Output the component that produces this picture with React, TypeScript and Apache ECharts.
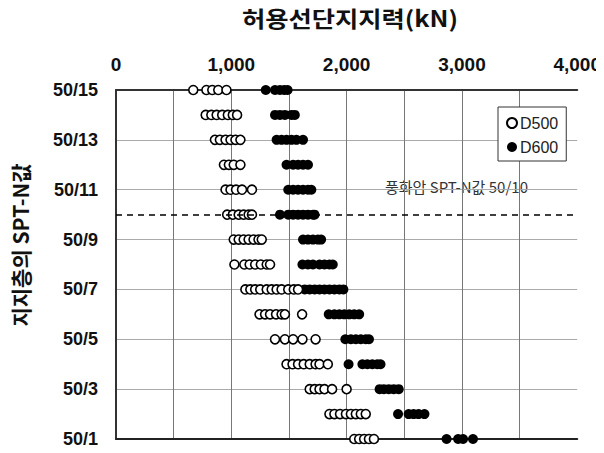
import React, { useEffect, useRef } from "react";
import * as echarts from "echarts";

const levels = ["50/1","50/2","50/3","50/4","50/5","50/6","50/7","50/8","50/9","50/10","50/11","50/12","50/13","50/14","50/15"];

// values per level (index matches levels)
const d500: number[][] = [
  [2066, 2109, 2152, 2194, 2237],
  [1851, 1894, 1943, 1994, 2037, 2080, 2123, 2166],
  [1680, 1723, 1765, 1808, 1874, 2000],
  [1479, 1531, 1579, 1628, 1680, 1731, 1765, 1837],
  [1379, 1465, 1536, 1617, 1731],
  [1245, 1293, 1336, 1388, 1436, 1465, 1614],
  [1122, 1165, 1207, 1251, 1307, 1350, 1393, 1436, 1494, 1542, 1579],
  [1027, 1113, 1159, 1207, 1256, 1307, 1336],
  [1021, 1064, 1107, 1150, 1193, 1236, 1264],
  [964, 1013, 1064, 1107, 1150, 1179],
  [950, 993, 1041, 1093, 1179],
  [936, 979, 1021, 1079],
  [858, 901, 950, 993, 1036, 1079],
  [778, 827, 873, 921, 970, 1013, 1050],
  [670, 784, 835, 887, 958],
];

const d600: number[][] = [
  [2867, 2967, 3010, 3096],
  [2446, 2538, 2581, 2624, 2675],
  [2286, 2323, 2366, 2409, 2452],
  [2017, 2137, 2180, 2223, 2266, 2294],
  [1989, 2037, 2080, 2123, 2166, 2194],
  [1845, 1894, 1937, 1980, 2023, 2066, 2109],
  [1637, 1680, 1723, 1765, 1808, 1851, 1894, 1937, 1972],
  [1617, 1665, 1708, 1765, 1808, 1851, 1880],
  [1622, 1665, 1708, 1751, 1779],
  [1422, 1494, 1536, 1579, 1622, 1665, 1708, 1722],
  [1494, 1536, 1579, 1622, 1665, 1694],
  [1479, 1536, 1579, 1622, 1665],
  [1393, 1436, 1479, 1522, 1565, 1622],
  [1379, 1422, 1465, 1522, 1551],
  [1299, 1379, 1422, 1459, 1488],
];

const xTicks = [0, 1000, 2000, 3000, 4000];
const refLevel = "50/10";
const refLabel = "풍화암 SPT-N값 50/10";
const xTitle = "허용선단지지력(kN)";
const yTitle = "지지층의 SPT-N값";

const toPoints = (rows: number[][]) =>
  rows.flatMap((vals, i) => vals.map((v) => [v, levels[i]]));

const FONT = "'Liberation Sans', 'Noto Sans CJK KR', sans-serif";
const KFONT = "'Noto Sans CJK KR', 'Liberation Sans', sans-serif";

export default function App() {
  const ref = useRef<HTMLDivElement>(null);
  useEffect(() => {
    const chart = echarts.init(ref.current!, null, { renderer: "svg" });
    chart.setOption({
      animation: false,
      backgroundColor: "#fff",
      textStyle: { fontFamily: FONT },
      legend: {
        orient: "vertical",
        left: 498,
        top: 107,
        width: 63,
        padding: [8, 8, 6, 8],
        itemGap: 8,
        itemWidth: 10,
        itemHeight: 10,
        borderColor: "#333",
        borderWidth: 1,
        backgroundColor: "#fff",
        textStyle: { fontSize: 16, color: "#222", fontFamily: FONT, padding: [0, 0, 0, -2] },
        data: [
          { name: "D500", icon: "circle" },
          { name: "D600", icon: "circle" },
        ],
      },
      grid: { left: 116, right: 22, top: 90, bottom: 14, containLabel: false },
      xAxis: [
        {
          type: "value",
          position: "top",
          min: 0,
          max: 4000,
          interval: 500,
          axisLine: { show: true, lineStyle: { color: "#333", width: 2 } },
          axisTick: { show: false },
          axisLabel: {
            margin: 16,
            fontSize: 19,
            fontWeight: "bold",
            color: "#111",
            fontFamily: FONT,
            formatter: (v: number) =>
              xTicks.includes(v) ? v.toLocaleString("en-US") : "",
          },
          splitLine: { show: true, showMaxLine: false, lineStyle: { color: "#777", width: 1 } },
        },
        {
          type: "value",
          position: "bottom",
          min: 0,
          max: 4000,
          axisLine: { show: true, onZero: false, lineStyle: { color: "#222", width: 2 } },
          axisTick: { show: false },
          axisLabel: { show: false },
          splitLine: { show: false },
        },
      ],
      yAxis: {
        type: "category",
        data: levels,
        boundaryGap: false,
        axisLine: { show: true, lineStyle: { color: "#333", width: 2 } },
        axisTick: { show: false },
        axisLabel: {
          interval: 1,
          margin: 18,
          fontSize: 18,
          fontWeight: "bold",
          color: "#111",
          fontFamily: FONT,
        },
        splitLine: { show: true, interval: 1, lineStyle: { color: "#aaa", width: 1 } },
      },
      series: [
        {
          name: "D500",
          type: "scatter",
          symbol: "circle",
          symbolSize: 9,
          clip: false,
          itemStyle: { color: "#fff", borderColor: "#000", borderWidth: 1.6, opacity: 1 },
          data: toPoints(d500),
          z: 3,
          markLine: {
            silent: true,
            symbol: "none",
            lineStyle: { color: "#000", type: [6, 5], width: 1.5 },
            label: { show: false },
            data: [{ yAxis: refLevel }],
          },
        },
        {
          name: "D600",
          type: "scatter",
          symbol: "circle",
          symbolSize: 10,
          clip: false,
          itemStyle: { color: "#000", borderColor: "#000", borderWidth: 0, opacity: 1 },
          data: toPoints(d600),
          z: 2,
        },
      ],
      graphic: [
        {
          type: "text",
          x: 350,
          y: 18,
          scaleX: 1.15,
          style: {
            text: xTitle,
            fontSize: 22,
            fontWeight: "bold",
            fill: "#111",
            fontFamily: KFONT,
            align: "center",
            verticalAlign: "middle",
          },
        },
        {
          type: "text",
          left: 385,
          top: 179,
          style: { text: refLabel, fontSize: 15, fill: "#333", fontFamily: KFONT },
        },
        {
          type: "text",
          x: 20,
          y: 245,
          rotation: Math.PI / 2,
          style: {
            text: yTitle,
            fontSize: 21,
            fontWeight: "bold",
            fill: "#111",
            fontFamily: KFONT,
            align: "center",
            verticalAlign: "middle",
          },
        },
      ],
    });
    return () => chart.dispose();
  }, []);
  return <div ref={ref} style={{ width: 604, height: 453, margin: -8 }} />;
}
